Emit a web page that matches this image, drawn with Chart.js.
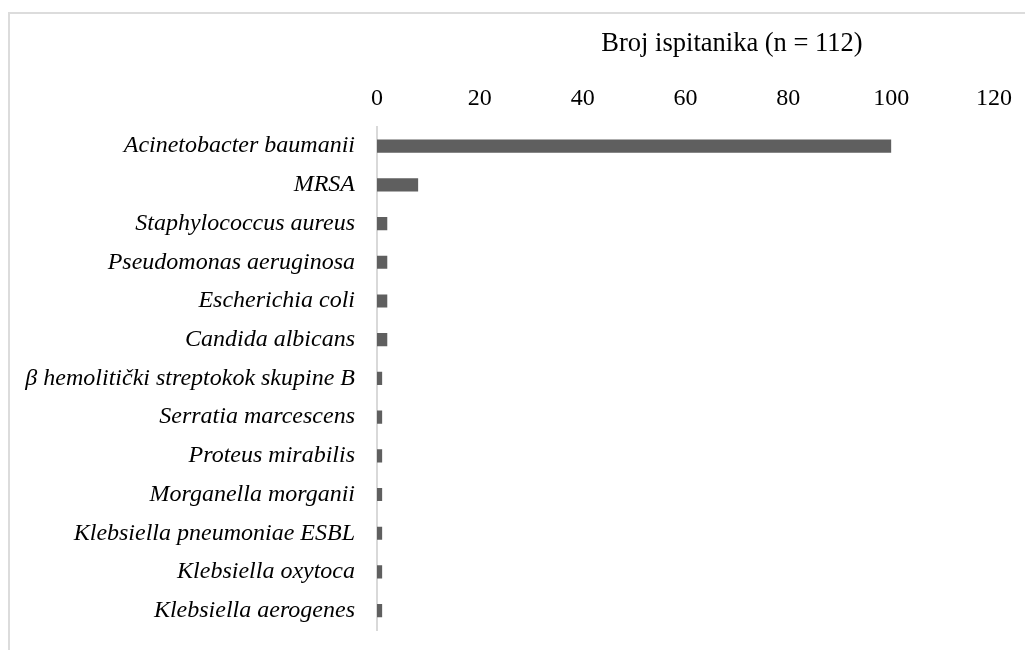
<!DOCTYPE html>
<html>
<head>
<meta charset="utf-8">
<script src="https://cdn.jsdelivr.net/npm/chart.js@4/dist/chart.umd.min.js"></script>
<style>
  html, body { margin: 0; padding: 0; background: #ffffff; overflow: hidden; }
  #frame { position: absolute; left: 8px; top: 12px; width: 1100px; height: 700px; border: 2px solid #dcdcdc; box-sizing: border-box; }
  #wrap { position: absolute; left: 0; top: 0; width: 1025px; height: 650px; }
</style>
</head>
<body>
<div id="frame"></div>
<div id="wrap"><canvas id="c" width="1025" height="650"></canvas></div>
<script>
const categories = [
  "Acinetobacter baumanii",
  "MRSA",
  "Staphylococcus aureus",
  "Pseudomonas aeruginosa",
  "Escherichia coli",
  "Candida albicans",
  "β hemolitički streptokok skupine B",
  "Serratia marcescens",
  "Proteus mirabilis",
  "Morganella morganii",
  "Klebsiella pneumoniae ESBL",
  "Klebsiella oxytoca",
  "Klebsiella aerogenes"
];
const counts = [100, 8, 2, 2, 2, 2, 1, 1, 1, 1, 1, 1, 1];
const axisTitle = "Broj ispitanika (n = 112)";
const xMin = 0, xMax = 120, xStep = 20;

const FONT = "'Liberation Serif', 'Times New Roman', serif";

const axisTitlePlugin = {
  id: 'axisTitleText',
  afterDraw(chart) {
    const ctx = chart.ctx;
    ctx.save();
    ctx.font = "26.5px " + FONT;
    ctx.fillStyle = "#000000";
    ctx.textAlign = "center";
    ctx.textBaseline = "middle";
    ctx.fillText(axisTitle, 732, 44);
    ctx.restore();
  }
};

new Chart(document.getElementById('c'), {
  type: 'bar',
  data: {
    labels: categories,
    datasets: [{
      data: counts,
      backgroundColor: '#5f5f5f',
      borderWidth: 0,
      barPercentage: 0.34,
      categoryPercentage: 1.0
    }]
  },
  plugins: [axisTitlePlugin],
  options: {
    indexAxis: 'y',
    responsive: false,
    animation: false,
    devicePixelRatio: 1,
    layout: { padding: { top: 70, right: 31, bottom: 20, left: 0 } },
    plugins: {
      legend: { display: false },
      tooltip: { enabled: false },
      title: { display: false }
    },
    scales: {
      x: {
        position: 'top',
        min: xMin,
        max: xMax,
        grid: { display: false, drawTicks: false },
        border: { display: false },
        afterFit(scale) { scale.paddingLeft = 0; scale.paddingRight = 0; },
        ticks: {
          stepSize: xStep,
          color: '#000000',
          padding: 14,
          font: { family: FONT, size: 24 }
        }
      },
      y: {
        grid: { display: false, drawTicks: false },
        border: { display: true, color: '#d9d9d9', width: 2 },
        afterFit(scale) { scale.width = 377; scale.paddingTop = 0; scale.paddingBottom = 0; },
        ticks: {
          color: '#000000',
          padding: 22,
          autoSkip: false,
          font: { family: FONT, size: 24, style: 'italic' }
        }
      }
    }
  }
});
</script>
</body>
</html>
